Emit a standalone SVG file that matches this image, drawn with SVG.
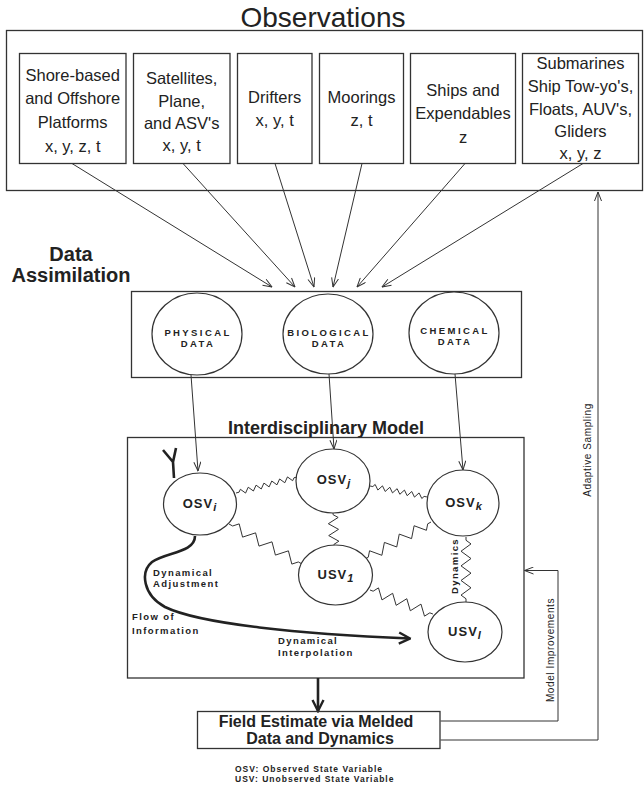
<svg xmlns="http://www.w3.org/2000/svg" width="644" height="787" viewBox="0 0 644 787">
<defs>
<style>
.box{fill:none;stroke:#333;stroke-width:1.3}
.bg{fill:#fff;stroke:#333;stroke-width:1.2}
.ln{fill:none;stroke:#333;stroke-width:1}
.thick{fill:none;stroke:#222;stroke-width:2.6}
.spr{fill:none;stroke:#333;stroke-width:1;stroke-linejoin:miter}
text{font-family:"Liberation Sans",Arial,Helvetica,sans-serif;fill:#222}
.obs{font-size:16.5px;text-anchor:middle}
.title{font-size:28px;text-anchor:middle}
.head{font-size:20px;font-weight:bold;text-anchor:middle}
.mtitle{font-size:18px;font-weight:bold;text-anchor:middle}
.dat{font-size:9.5px;font-weight:bold;letter-spacing:2.4px;text-anchor:middle}
.var{font-size:13px;font-weight:bold;letter-spacing:1px;text-anchor:middle}
.sub{font-size:11px;font-style:italic}
.lab{font-size:9.5px;font-weight:bold;letter-spacing:1.4px}
.fe{font-size:16px;font-weight:bold;text-anchor:middle}
.leg{font-size:8.5px;font-weight:bold;letter-spacing:1px}
.side{font-size:10px;letter-spacing:0.6px;text-anchor:middle}
</style>
<marker id="ah" viewBox="0 0 10 8" refX="9.5" refY="4" markerWidth="10" markerHeight="8" markerUnits="userSpaceOnUse" orient="auto">
<path d="M0.5,0.5 L9.5,4 L0.5,7.5" fill="none" stroke="#333" stroke-width="1"/>
</marker>
<marker id="ahT" viewBox="0 0 14 14" refX="12.5" refY="7" markerWidth="14" markerHeight="14" markerUnits="userSpaceOnUse" orient="auto">
<path d="M1.5,1.5 L12.5,7 L1.5,12.5" fill="none" stroke="#222" stroke-width="2.4"/>
</marker>
<path id="springA" vector-effect="non-scaling-stroke" d="M0,0 L5,0 L8.21,-1 L14.64,1 L21.07,-1 L27.5,1 L33.93,-1 L40.36,1 L46.79,-1 L53.21,1 L59.64,-1 L66.07,1 L72.5,-1 L78.93,1 L85.36,-1 L91.79,1 L95,0 L100,0"/>
<path id="springB" vector-effect="non-scaling-stroke" d="M0,0 L5,0 L10.63,-1 L21.88,1 L33.13,-1 L44.38,1 L55.63,-1 L66.88,1 L78.13,-1 L89.38,1 L95,0 L100,0"/>
<path id="springC" vector-effect="non-scaling-stroke" d="M0,0 L5,0 L14,-1 L32,1 L50,-1 L68,1 L86,-1 L95,0 L100,0"/>
</defs>
<rect width="644" height="787" fill="#fff"/>

<g id="observations">
<text class="title" x="323" y="27">Observations</text>
<rect class="box" x="6.5" y="30.5" width="636" height="160"/>
</g>
<g id="obs-shore">
<rect class="box" x="19.5" y="53.5" width="106.5" height="110"/>
<text class="obs" x="72.7" y="80.5">Shore-based</text>
<text class="obs" x="72.7" y="104">and Offshore</text>
<text class="obs" x="72.7" y="128">Platforms</text>
<text class="obs" x="72.7" y="152">x, y, z, t</text>
</g>
<g id="obs-satellites">
<rect class="box" x="133.5" y="53.5" width="96.5" height="110"/>
<text class="obs" x="181.7" y="84">Satellites,</text>
<text class="obs" x="181.7" y="106.5">Plane,</text>
<text class="obs" x="181.7" y="129">and ASV's</text>
<text class="obs" x="181.7" y="151">x, y, t</text>
</g>
<g id="obs-drifters">
<rect class="box" x="237.5" y="53.5" width="74.5" height="110"/>
<text class="obs" x="274.7" y="103">Drifters</text>
<text class="obs" x="274.7" y="126">x, y, t</text>
</g>
<g id="obs-moorings">
<rect class="box" x="319.5" y="53.5" width="84" height="110"/>
<text class="obs" x="361.5" y="103">Moorings</text>
<text class="obs" x="361.5" y="126">z, t</text>
</g>
<g id="obs-ships">
<rect class="box" x="410.5" y="53.5" width="105" height="110"/>
<text class="obs" x="463" y="96">Ships and</text>
<text class="obs" x="463" y="119">Expendables</text>
<text class="obs" x="463" y="143">z</text>
</g>
<g id="obs-submarines">
<rect class="box" x="522.5" y="53.5" width="116" height="110"/>
<text class="obs" x="580.5" y="69">Submarines</text>
<text class="obs" x="580.5" y="92">Ship Tow-yo's,</text>
<text class="obs" x="580.5" y="114.5">Floats, AUV's,</text>
<text class="obs" x="580.5" y="137">Gliders</text>
<text class="obs" x="580.5" y="159">x, y, z</text>
</g>

<g id="data-assimilation">
<text class="head" x="71" y="261">Data</text>
<text class="head" x="71" y="282">Assimilation</text>
<rect class="box" x="131.5" y="291.5" width="390" height="86"/>
</g>
<g id="physical-data">
<ellipse class="bg" cx="197" cy="334" rx="45" ry="41"/>
<text class="dat" x="198" y="336">PHYSICAL</text>
<text class="dat" x="198" y="347">DATA</text>
</g>
<g id="biological-data">
<ellipse class="bg" cx="328" cy="334" rx="45" ry="40"/>
<text class="dat" x="329" y="336">BIOLOGICAL</text>
<text class="dat" x="329" y="347">DATA</text>
</g>
<g id="chemical-data">
<ellipse class="bg" cx="454" cy="333" rx="45" ry="41"/>
<text class="dat" x="455" y="334">CHEMICAL</text>
<text class="dat" x="455" y="345">DATA</text>
</g>

<g id="interdisciplinary-model">
<text class="mtitle" x="326" y="434">Interdisciplinary Model</text>
<rect class="box" x="127.5" y="437.5" width="396.5" height="240.5"/>
</g>

<g id="connectors">
<g marker-end="url(#ah)" class="ln">
<line x1="72" y1="163.5" x2="272" y2="287"/>
<line x1="183" y1="163.5" x2="295" y2="287"/>
<line x1="275" y1="163.5" x2="314" y2="287"/>
<line x1="362" y1="163.5" x2="333" y2="287"/>
<line x1="465" y1="163.5" x2="357" y2="287"/>
<line x1="583" y1="163.5" x2="382" y2="287"/>
<line x1="191" y1="375" x2="198" y2="471"/>
<line x1="329" y1="374" x2="334" y2="449"/>
<line x1="455" y1="374" x2="463" y2="470"/>
<path d="M440.5,721 H558 V570.5 H524.5"/>
<path d="M440.5,740 H598 V192"/>
</g>
<g class="spr">
<use href="#springA" transform="translate(236,493) rotate(-14.7) scale(0.631,2.5)"/>
<use href="#springA" transform="translate(370,486) rotate(10.9) scale(0.58,2.5)"/>
<use href="#springB" transform="translate(229,524) rotate(28.7) scale(0.832,5)"/>
<use href="#springC" transform="translate(333,513) rotate(88.2) scale(0.33,5)"/>
<use href="#springB" transform="translate(431,522) rotate(150.7) scale(0.757,5)"/>
<use href="#springB" transform="translate(370,590) rotate(20.9) scale(0.674,5)"/>
<use href="#springB" transform="translate(466,537) rotate(90) scale(0.65,5)"/>
</g>
<path class="thick" d="M174,478 L173,462 L163,450 M173,462 L176,448"/>
<path class="thick" marker-end="url(#ahT)" d="M195,536 C195,553 165,552 152,562 C140,572 143,595 165,607 C200,624 300,634 410,638.5"/>
<line class="thick" marker-end="url(#ahT)" x1="318" y1="678" x2="318" y2="711"/>
</g>

<g id="osv-i">
<ellipse class="bg" cx="200" cy="504" rx="36.5" ry="31"/>
<text class="var" x="200" y="508">OSV<tspan class="sub" dy="3">i</tspan></text>
</g>
<g id="osv-j">
<ellipse class="bg" cx="333" cy="481" rx="37" ry="32"/>
<text class="var" x="334" y="484">OSV<tspan class="sub" dy="3">j</tspan></text>
</g>
<g id="osv-k">
<ellipse class="bg" cx="463" cy="503" rx="36" ry="33"/>
<text class="var" x="464" y="507">OSV<tspan class="sub" dy="3">k</tspan></text>
</g>
<g id="usv-1">
<ellipse class="bg" cx="335.5" cy="575" rx="37" ry="30"/>
<text class="var" x="336" y="579">USV<tspan class="sub" dy="3">1</tspan></text>
</g>
<g id="usv-l">
<ellipse class="bg" cx="465" cy="632" rx="37" ry="30"/>
<text class="var" x="465" y="636">USV<tspan class="sub" dy="3">l</tspan></text>
</g>

<g id="labels">
<text class="lab" x="153" y="576">Dynamical</text>
<text class="lab" x="153" y="587">Adjustment</text>
<text class="lab" x="132" y="620">Flow of</text>
<text class="lab" x="132" y="634">Information</text>
<text class="lab" x="278" y="644">Dynamical</text>
<text class="lab" x="278" y="656">Interpolation</text>
<text class="lab" transform="translate(458,566) rotate(-90)" text-anchor="middle">Dynamics</text>
<text class="side" transform="translate(554,650) rotate(-90)">Model Improvements</text>
<text class="side" transform="translate(591,450) rotate(-90)">Adaptive Sampling</text>
</g>

<g id="field-estimate">
<rect class="box" x="197.5" y="711.5" width="242.5" height="37"/>
<text class="fe" x="316" y="727">Field Estimate via Melded</text>
<text class="fe" x="320" y="744">Data and Dynamics</text>
</g>

<g id="legend">
<text class="leg" x="235" y="772">OSV: Observed State Variable</text>
<text class="leg" x="235" y="782">USV: Unobserved State Variable</text>
</g>
</svg>
